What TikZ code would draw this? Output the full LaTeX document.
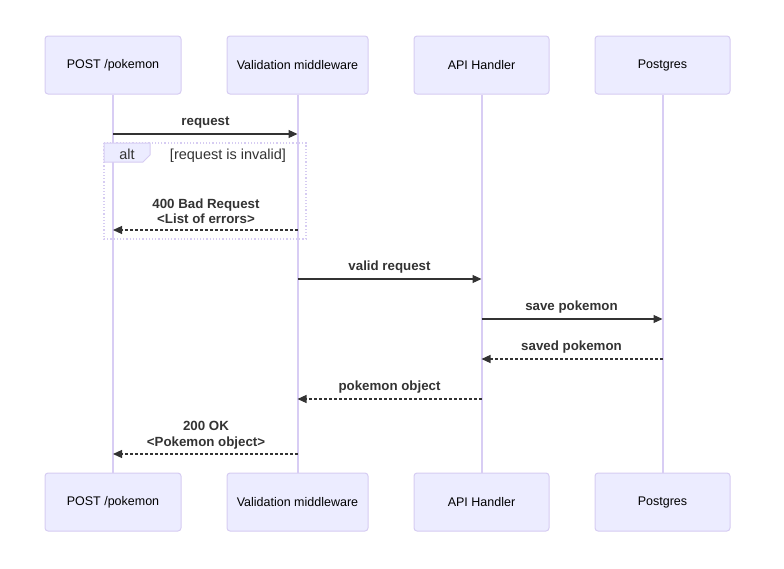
\documentclass[tikz,border=0pt]{standalone}
\usepackage{fontspec}
\setmainfont{Liberation Sans}
\usetikzlibrary{arrows.meta,calc}
\definecolor{actorfill}{HTML}{ECECFF}
\definecolor{actorline}{HTML}{D6CCF2}
\definecolor{lifeline}{HTML}{D8CDF4}
\definecolor{msgcol}{HTML}{333333}
\tikzset{
  x=1pt, y=-1pt,
  actor/.style={draw=actorline, line width=1pt, fill=actorfill, rounded corners=3pt,
    minimum width=136pt, minimum height=58pt, inner sep=0pt,
    font=\fontsize{12.5}{15}\selectfont, text=black},
  life/.style={draw=lifeline, line width=2pt},
  msg/.style={draw=msgcol, line width=1.1pt, -{Triangle[length=9pt,width=8pt]}},
  reply/.style={msg, dash pattern=on 3pt off 2pt},
  msglabel/.style={font=\bfseries\fontsize{13.3}{15.5}\selectfont, text=msgcol, align=center, inner sep=0pt},
  altframe/.style={draw=actorline, line width=1.2pt, dash pattern=on 1.2pt off 2pt},
  altlabel/.style={font=\fontsize{14.5}{17}\selectfont, text=msgcol, inner sep=0pt}
}
\begin{document}
\begin{tikzpicture}
\useasboundingbox (0,0) rectangle (784,568);

% participants, top and bottom
\node[actor] (a1) at (113,65) {POST /pokemon};
\node[actor, minimum width=141pt] (a2) at (297.5,65) {Validation middleware};
\node[actor, minimum width=135pt] (a3) at (481.5,65) {API Handler};
\node[actor, minimum width=135pt] (a4) at (662.5,65) {Postgres};
\node[actor] (b1) at (113,502) {POST /pokemon};
\node[actor, minimum width=141pt] (b2) at (297.5,502) {Validation middleware};
\node[actor, minimum width=135pt] (b3) at (481.5,502) {API Handler};
\node[actor, minimum width=135pt] (b4) at (662.5,502) {Postgres};

% lifelines
\draw[life] (a1.south) -- (b1.north);
\draw[life] (a2.south) -- (b2.north);
\draw[life] (a3.south) -- (b3.north);
\draw[life] (a4.south) -- (b4.north);

% alt frame
\coordinate (f1) at (104,143);
\coordinate (f2) at (306,239);
\draw[altframe] (f1) rectangle (f2);
\fill[actorfill, draw=actorline, line width=1pt]
  (104,143) -- (150,143) -- (150,155) -- (143,162) -- (104,162) -- cycle;
\node[altlabel] (altk) at (127,154) {alt};
\node[altlabel] (altc) at (228,156) {[request is invalid]};

% message anchor points on the lifelines
\coordinate (m1s) at (a1.south |- 0,134);  \coordinate (m1e) at (a2.south |- 0,134);
\coordinate (m2s) at (a2.south |- 0,230);  \coordinate (m2e) at (a1.south |- 0,230);
\coordinate (m3s) at (a2.south |- 0,279);  \coordinate (m3e) at (a3.south |- 0,279);
\coordinate (m4s) at (a3.south |- 0,319);  \coordinate (m4e) at (a4.south |- 0,319);
\coordinate (m5s) at (a4.south |- 0,359);  \coordinate (m5e) at (a3.south |- 0,359);
\coordinate (m6s) at (a3.south |- 0,399);  \coordinate (m6e) at (a2.south |- 0,399);
\coordinate (m7s) at (a2.south |- 0,454);  \coordinate (m7e) at (a1.south |- 0,454);

% messages
\draw[msg] (m1s) -- (m1e);
\node[msglabel] (l1) at (205.5,122.5) {request};
\draw[reply] (m2s) -- (m2e);
\node[msglabel] (l2) at (206,211) {400 Bad Request\\<List of errors>};
\draw[msg] (m3s) -- (m3e);
\node[msglabel] (l3) at (389.5,267) {valid request};
\draw[msg] (m4s) -- (m4e);
\node[msglabel] (l4) at (571.5,307) {save pokemon};
\draw[reply] (m5s) -- (m5e);
\node[msglabel] (l5) at (571.5,347) {saved pokemon};
\draw[reply] (m6s) -- (m6e);
\node[msglabel] (l6) at (389.5,387) {pokemon object};
\draw[reply] (m7s) -- (m7e);
\node[msglabel] (l7) at (206,435) {200 OK\\<Pokemon object>};
\end{tikzpicture}
\end{document}
